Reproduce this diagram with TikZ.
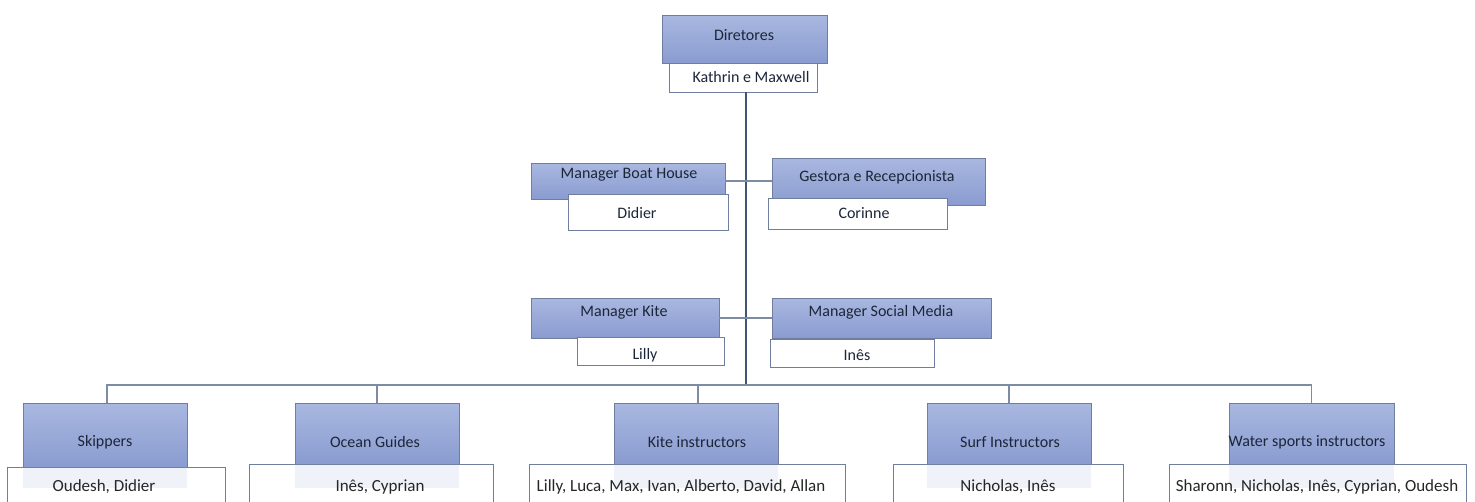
\documentclass[tikz,border=0pt]{standalone}
\usepackage{fontspec}
\setmainfont{Carlito}
\definecolor{bxtop}{HTML}{A9B8E0}
\definecolor{bxbot}{HTML}{8A9BD0}
\definecolor{bxline}{HTML}{6F7E9C}
\definecolor{txtc}{HTML}{1C2639}
\definecolor{mainln}{HTML}{3F5573}
\definecolor{connln}{HTML}{7D8CA3}
\begin{document}
\begin{tikzpicture}[x=1pt,y=-1pt,
  bluebox/.style={draw=bxline, line width=0.9pt, top color=bxtop, bottom color=bxbot, inner sep=0pt, outer sep=0pt},
  whitebox/.style={draw=bxline, line width=0.9pt, fill=white, inner sep=0pt, outer sep=0pt},
  txt/.style={inner sep=0pt, text=txtc, font=\fontsize{16}{19}\selectfont},
  nametxt/.style={inner sep=0pt, text=black!85, font=\fontsize{17}{20}\selectfont},
  mainline/.style={draw=mainln, line width=2.2pt},
  connline/.style={draw=connln, line width=1.6pt},
  tint/.style={fill=bxbot, fill opacity=0.13}]
\clip (0,0) rectangle (1475,501);
\fill[white] (0,0) rectangle (1475,501);

% coordinates of the hub
\coordinate (hub) at (746,385);

% ---- top
\node[bluebox, minimum width=165pt, minimum height=48pt] (dir) at (744.5,39) {};
\node[whitebox, minimum width=148pt, minimum height=29pt] (kath) at (743,77.5) {};
\node[txt] (dirT) at (744,35) {Diretores};
\node[txt] (kathT) at (751,77) {Kathrin e Maxwell};

% ---- main vertical line
\draw[mainline] (kath.south -| hub) -- (hub);

% ---- second level
\node[bluebox, minimum width=194pt, minimum height=36pt] (mbh) at (628,181) {};
\node[whitebox, minimum width=160pt, minimum height=36pt] (did) at (648,212) {};
\node[txt] (mbhT) at (629,175) {Manager Boat House};
\node[txt] (didT) at (637,213) {Didier};

\node[bluebox, minimum width=213pt, minimum height=47pt] (ges) at (878.5,181.5) {};
\node[whitebox, minimum width=179pt, minimum height=31pt] (cor) at (857.5,213.5) {};
\node[txt] (gesT) at (877,177) {Gestora e Recepcionista};
\node[txt] (corT) at (864,213) {Corinne};

\draw[connline] (mbh.east) -- (mbh.east -| ges.west);

% ---- third level
\node[bluebox, minimum width=188pt, minimum height=40pt] (mk) at (625,318) {};
\node[whitebox, minimum width=147pt, minimum height=28pt] (lil) at (650.5,351) {};
\node[txt] (mkT) at (624,312) {Manager Kite};
\node[txt] (lilT) at (645,355) {Lilly};

\node[bluebox, minimum width=219pt, minimum height=40pt] (msm) at (881.5,318) {};
\node[whitebox, minimum width=164pt, minimum height=28pt] (ins) at (852,353) {};
\node[txt] (msmT) at (881,312) {Manager Social Media};
\node[txt] (insT) at (857,355) {Inês};

\draw[connline] (mk.east) -- (mk.east -| msm.west);

% ---- bottom row
\node[bluebox, minimum width=164pt, minimum height=64pt] (skip) at (105,435) {};
\node[whitebox, minimum width=218pt, minimum height=43pt] (skipW) at (116,488.5) {};
\fill[tint] (skip.south west) rectangle ([yshift=-21pt]skip.south east);
\node[txt] (skipT) at (105,442) {Skippers};
\node[nametxt] (skipN) at (104,487) {Oudesh, Didier};

\node[bluebox, minimum width=164pt, minimum height=61pt] (ocean) at (377,433.5) {};
\node[whitebox, minimum width=244pt, minimum height=46pt] (oceanW) at (371,487) {};
\fill[tint] (ocean.south west) rectangle ([yshift=-24pt]ocean.south east);
\node[txt] (oceanT) at (375,442) {Ocean Guides};
\node[nametxt] (oceanN) at (380,487) {Inês, Cyprian};

\node[bluebox, minimum width=164pt, minimum height=61pt] (kite) at (696,433.5) {};
\node[whitebox, minimum width=316pt, minimum height=46pt] (kiteW) at (687,487) {};
\fill[tint] (kite.south west) rectangle ([yshift=-24pt]kite.south east);
\node[txt] (kiteT) at (697,442) {Kite instructors};
\node[nametxt] (kiteN) at (681,487) {Lilly, Luca, Max, Ivan, Alberto, David, Allan};

\node[bluebox, minimum width=164pt, minimum height=61pt] (surf) at (1009,433.5) {};
\node[whitebox, minimum width=230pt, minimum height=46pt] (surfW) at (1008,487) {};
\fill[tint] (surf.south west) rectangle ([yshift=-24pt]surf.south east);
\node[txt] (surfT) at (1010,442) {Surf Instructors};
\node[nametxt] (surfN) at (1008,487) {Nicholas, Inês};

\node[bluebox, minimum width=165pt, minimum height=61pt] (water) at (1311.5,433.5) {};
\node[whitebox, minimum width=297pt, minimum height=46pt] (waterW) at (1317.5,487) {};
\fill[tint] (water.south west) rectangle ([yshift=-24pt]water.south east);
\node[txt] (waterT) at (1307,442) {Water sports instructors};
\node[nametxt] (waterN) at (1317,487) {Sharonn, Nicholas, Inês, Cyprian, Oudesh};

% ---- bottom connectors
\draw[connline] ([xshift=2pt]skip.north) |- (hub);
\draw[connline] (ocean.north) |- (hub);
\draw[connline] ([xshift=2pt]kite.north) |- (hub);
\draw[connline] (surf.north) |- (hub);
\draw[connline] (water.north) |- (hub);
\end{tikzpicture}
\end{document}
